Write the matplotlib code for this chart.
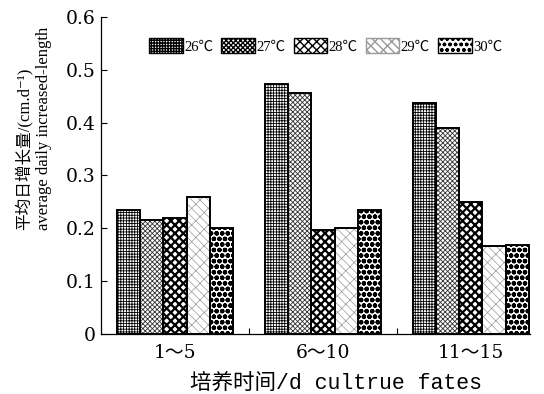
import matplotlib
matplotlib.use('Agg')
import matplotlib.pyplot as plt
from matplotlib.patches import Patch
import numpy as np

plt.rcParams['font.family'] = ['DejaVu Serif', 'Noto Sans CJK SC']

# growth data per culture period and temperature
periods = ['1～5', '6～10', '11～15']
temps = ['26℃', '27℃', '28℃', '29℃', '30℃']
t26 = [0.234, 0.474, 0.438]
t27 = [0.216, 0.456, 0.389]
t28 = [0.220, 0.197, 0.249]
t29 = [0.259, 0.200, 0.167]
t30 = [0.200, 0.234, 0.169]
series = [t26, t27, t28, t29, t30]
yticks = [0, 0.1, 0.2, 0.3, 0.4, 0.5, 0.6]
ytick_labels = ['0', '0.1', '0.2', '0.3', '0.4', '0.5', '0.6']

# fill pattern, hatch colour, hatch line width for each temperature
styles = [('++++++', 'black', 0.6),
          ('xxxxxxx', '#333333', 0.6),
          ('xxxx', 'black', 1.6),
          ('\\\\\\\\//', '#999999', 0.5),
          ('ooo', 'black', 1.6)]

fig = plt.figure(figsize=(5.44, 3.94), dpi=100)
ax = fig.add_axes([0.1857, 0.1523, 0.7886, 0.8046])

x = np.arange(len(periods))
w = 0.157
for i, vals in enumerate(series):
    hatch, hc, hlw = styles[i]
    pos = x + (i - 2) * w
    with plt.rc_context({'hatch.linewidth': hlw}):
        bars = ax.bar(pos, vals, w, color='white', edgecolor=hc,
                      linewidth=0, hatch=hatch, zorder=2)
    for b in bars:
        if hasattr(b, 'set_hatch_linewidth'):
            b.set_hatch_linewidth(hlw)
    ax.bar(pos, vals, w, fill=False, edgecolor='black', linewidth=1.4, zorder=3)

ax.set_xlim(-0.5, 2.4)
ax.set_ylim(0, 0.6)
ax.set_yticks(yticks)
ax.set_yticklabels(ytick_labels)
ax.set_xticks(x)
ax.set_xticklabels(periods)
ax.set_xticks([0.5, 1.5], minor=True)
ax.tick_params(axis='x', which='major', length=0, labelsize=13.5, pad=7)
ax.tick_params(axis='x', which='minor', direction='in', length=4, width=0.8)
ax.tick_params(axis='y', direction='in', length=4, width=0.8, labelsize=13.5, pad=4)
for s in ['top', 'right']:
    ax.spines[s].set_visible(False)
for s in ['left', 'bottom']:
    ax.spines[s].set_linewidth(0.9)

handles = []
for i, t in enumerate(temps):
    hatch, hc, hlw = styles[i]
    h = Patch(facecolor='white', edgecolor=hc if i == 3 else 'black',
              hatch=hatch, linewidth=1.0, label=t)
    if hasattr(h, 'set_hatch_linewidth'):
        h.set_hatch_linewidth(hlw)
    handles.append(h)
ax.legend(handles=handles, loc='center', bbox_to_anchor=(0.524, 0.909),
          ncol=5, frameon=False, handlelength=2.3, handleheight=1.15,
          handletextpad=0.1, columnspacing=0.55, borderpad=0,
          borderaxespad=0,
          prop={'family': ['Liberation Serif', 'Noto Sans CJK SC'],
                'size': 10.5})

label_font = ['Liberation Serif', 'Noto Sans CJK SC', 'DejaVu Serif']
fig.text(0.044, 0.416, '平均日增长量/(cm.d⁻¹)', rotation=90,
         ha='center', va='bottom', fontsize=12, family=label_font)
fig.text(0.081, 0.416, 'average daily increased-length', rotation=90,
         ha='center', va='bottom', fontsize=12, family=label_font)
fig.text(0.349, 0.028, '培养时间/d cultrue fates', ha='left', va='center',
         fontsize=15.5, family=['Liberation Mono', 'Noto Sans CJK SC'])

fig.savefig('out.png', dpi=100)
